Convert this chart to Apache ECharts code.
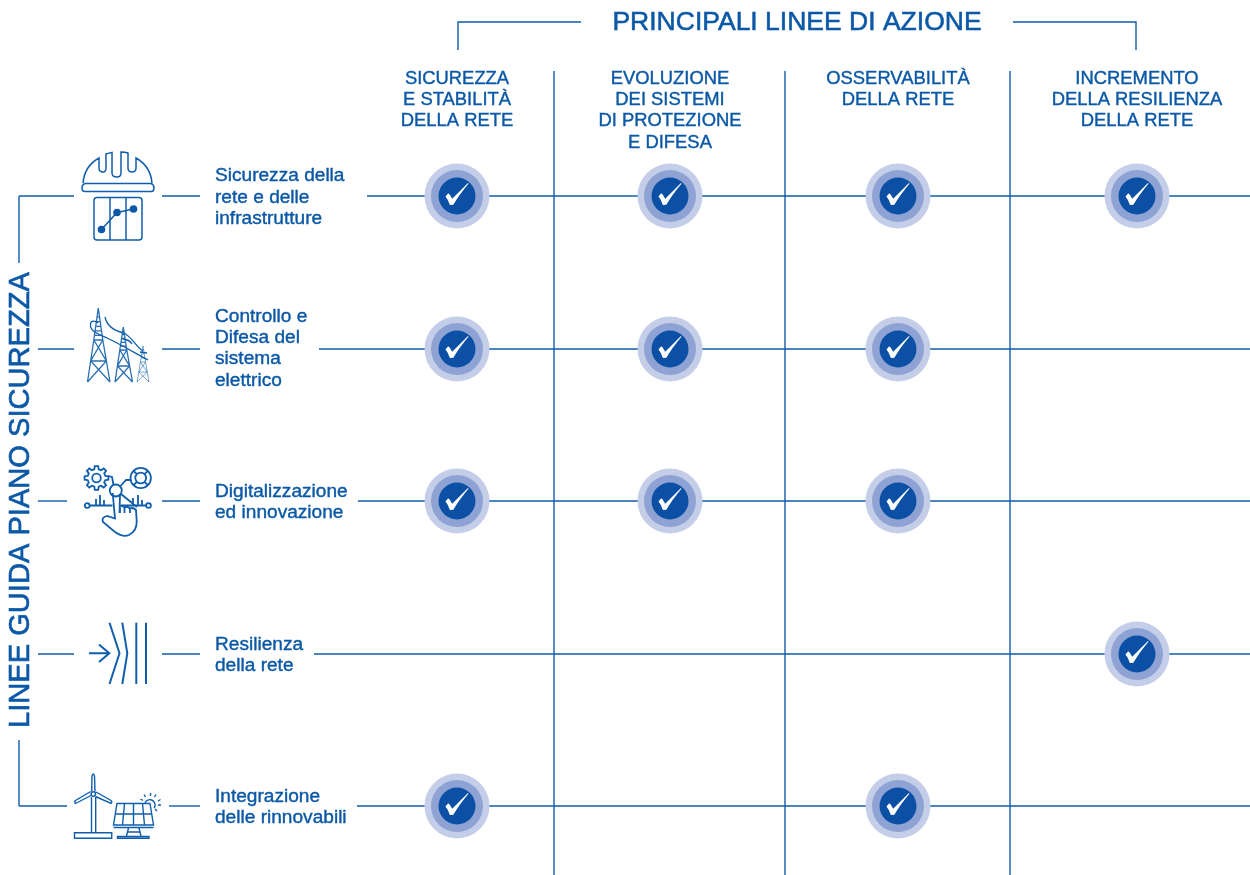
<!DOCTYPE html>
<html>
<head>
<meta charset="utf-8">
<style>html,body{margin:0;padding:0;background:#fff}#c{width:1250px;height:875px}</style>
<script src="https://cdn.jsdelivr.net/npm/echarts@6/dist/echarts.min.js"></script>
</head>
<body>
<div id="c"></div>
<script>
// ---- content ----
const chartTitle = 'PRINCIPALI LINEE DI AZIONE';
const sideTitle = 'LINEE GUIDA PIANO SICUREZZA';
const actionLines = [
  'SICUREZZA\nE STABILITÀ\nDELLA RETE',
  'EVOLUZIONE\nDEI SISTEMI\nDI PROTEZIONE\nE DIFESA',
  'OSSERVABILITÀ\nDELLA RETE',
  'INCREMENTO\nDELLA RESILIENZA\nDELLA RETE'
];
const guideLines = [
  'Sicurezza della\nrete e delle\ninfrastrutture',
  'Controllo e\nDifesa del\nsistema\nelettrico',
  'Digitalizzazione\ned innovazione',
  'Resilienza\ndella rete',
  'Integrazione\ndelle rinnovabili'
];
// one list per action line; 1 = the guide line (row) is ticked
const sicurezzaStabilita = [1, 1, 1, 0, 1];
const evoluzioneSistemi  = [1, 1, 1, 0, 0];
const osservabilita      = [1, 1, 1, 0, 1];
const resilienza         = [1, 0, 0, 1, 0];
const coverage = [sicurezzaStabilita, evoluzioneSistemi, osservabilita, resilienza];

// ---- layout ----
const colX = [457, 670, 898, 1137];
const rowY = [196, 349, 501, 654, 806];
const dividers = [554, 785, 1010];
const rowSegments = [
  [[19, 74], [162, 200], [367, 1250]],
  [[38, 74], [162, 200], [319, 1250]],
  [[38, 67], [162, 200], [358, 1250]],
  [[38, 74], [162, 200], [314, 1250]],
  [[19, 67], [169, 200], [357, 1250]]
];
const BLUE = '#0a58a6', LINE = '#0f5ca9', ICON = '#0f5eac';

const ticks = [];
coverage.forEach((col, c) => col.forEach((v, r) => { if (v) ticks.push([colX[c], rowY[r]]); }));

const segs = [];
rowSegments.forEach((list, r) => list.forEach(s => segs.push([[s[0], rowY[r]], [s[1], rowY[r]]])));
dividers.forEach(x => segs.push([[x, 71], [x, 875]]));
const polylines = [
  [[19, 196], [19, 263]],
  [[19, 740], [19, 806]],
  [[458, 50], [458, 22], [581, 22]],
  [[1013, 22], [1136, 22], [1136, 50]]
];

const CHECK = 'path://M445.7 196.7 L447.9 194 Q448.8 193.4 449.6 194.4 L452.3 199 L467.8 183.3 L468.3 184 Q459 195 453.4 205 L450 205.2 Q448.5 200 445.7 196.7 Z';

// ---- icons ----
function gearPath(cx, cy, ro, ri, n) {
  let d = '';
  for (let i = 0; i < n; i++) {
    const a = i * 2 * Math.PI / n, w = Math.PI / n;
    const pts = [[ri, a - w * 0.62], [ro, a - w * 0.36], [ro, a + w * 0.36], [ri, a + w * 0.62]];
    pts.forEach((p, k) => {
      const x = cx + p[0] * Math.cos(p[1]), y = cy + p[0] * Math.sin(p[1]);
      d += (i === 0 && k === 0 ? 'M' : 'L') + x.toFixed(1) + ' ' + y.toFixed(1) + ' ';
    });
  }
  return d + 'Z';
}
function circ(cx, cy, r) {
  return `M${cx - r} ${cy} A${r} ${r} 0 1 1 ${cx + r} ${cy} A${r} ${r} 0 1 1 ${cx - r} ${cy} Z`;
}
// mast: narrow head down to a waist, then flared legs with X bracing
function tower(ax, ay, wy, ww, bl, br, by, rungs) {
  const wl = ax - ww, wr = ax + ww;
  let d = `M${ax} ${ay} L${wl} ${wy} L${bl} ${by} M${ax} ${ay} L${wr} ${wy} L${br} ${by} `;
  for (let i = 1; i <= rungs; i++) {
    const y = ay + (wy - ay) * i / rungs, hw = ww * i / rungs;
    d += `M${ax - hw} ${y} L${ax + hw} ${y} `;
  }
  const midY = (wy + by) / 2, ml = (wl + bl) / 2, mr = (wr + br) / 2;
  d += `M${wl} ${wy} L${mr} ${midY} L${bl} ${by} M${wr} ${wy} L${ml} ${midY} L${br} ${by} M${ml} ${midY} L${mr} ${midY}`;
  return d;
}

const iconGroups = [
  [1.5, 1, [
    // helmet
    'M83 183 C84 172 90 163 99 158 L99 168 Q99 172 103 172 Q106 172 106 168 L106 154 Q109 153 112 152.5 L112 173 Q112 177 117 177 Q121 177 121 173 L121 152 Q125 152 128 153 L128 168 Q128 172 132 172 Q136 172 136 168 L136 158 C145 163 151 172 152 183 ' +
    'M85 183.5 L151 183.5 Q154 184.5 154 188 Q154 191.5 151 191.5 L85 191.5 Q82 191.5 82 188 Q82 184.5 85 183.5 Z',
    // chart panel
    'M97 197.5 L139 197.5 Q142 197.5 142 200.5 L142 237 Q142 240 139 240 L97 240 Q94 240 94 237 L94 200.5 Q94 197.5 97 197.5 Z M110 197.5 L110 240 M126 197.5 L126 240 M101.5 229.5 L117 212.5 L133.5 209'
  ]],
  [1.3, 0.9, [
    tower(98.3, 308, 340, 4.5, 87.5, 110, 382, 7),
    tower(123.3, 327, 350, 3.5, 115, 132.5, 382, 6)
  ]],
  [1, 0.55, [tower(143, 346, 362, 2.5, 137, 149, 382, 4)]],
  [1.3, 1, [
    'M105 317 C107 326 115 331 124 333 C131 336 136 347 143 351 M91 322 C88 330 96 333 107 338 C120 344 135 353 148 360 M91 322 Q94 320 98 323 M123 339 Q130 340 132 344 M140 352 L147 353'
  ]],
  [1.8, 1, [
    gearPath(96.5, 478, 12, 9, 8), circ(96.5, 478, 4.3),
    circ(140.7, 478, 10.2), circ(140.7, 478, 5.4),
    'M133.5 470.8 L136.9 474.2 M147.9 470.8 L144.5 474.2 M133.5 485.2 L136.9 481.8 M147.9 485.2 L144.5 481.8',
    circ(115.8, 490.5, 6),
    'M108 476 L112 477 L113.5 485 M130.5 480 L126 480 L120.5 486',
    circ(87.2, 505.5, 2.4), circ(148.5, 505.5, 2.4),
    'M89.7 505.5 L112.5 505.5 M96 505.5 L96 499 M100 505.5 L100 495 M104 505.5 L104 500 M121 505.5 L146 505.5 M133 505.5 L133 498 M138 505.5 L138 495 M142 505.5 L142 500 M121 494 L137 507',
    'M112.7 493 L115 518.5 L107 516 Q101 517.5 103 522 L115 532 Q123 537.5 129 535 Q137 531 136.7 521 L136 510 Q133 507 130 508.5 L130 513 M130 508.5 Q127 505.5 124.5 507.5 L124.5 513 M124.5 507.5 Q122 505 120 506 L120 513 M120 494 L119.5 513'
  ]],
  [2, 1, ['M89 653.3 L109 653.3 M99 644.5 L109.3 653.3 L99 662', 'M109.5 622.7 L119.5 653.3 L109.5 684', 'M122.3 622.7 L127.3 653.3 L122.3 684', 'M136.3 622.7 L136.3 684', 'M146 622.7 L146 684']],
  [1.4, 1, [
    'M91.5 797 L91.5 833 M95.7 797 L95.7 833 M74.5 832.8 L111.7 832.8 L111.7 838.3 L74.5 838.3 Z ' +
    'M91.7 791.5 L92 776 Q93 772 94.5 776 L95 791.5 M91 795.5 L75.5 803.5 Q74 802 75.5 800.5 L90.7 791.5 M96 792 L111 800.5 Q112.5 802 111 803.5 L95.5 796.5',
    circ(93.3, 794, 2.2),
    'M117 803.5 L150 803.5 L153.5 825 L113.5 825 Z M113.5 827.5 L153.5 827.5 M115 814 L152 814 M124.5 803.5 L122.5 825 M133.5 803.5 L133.5 825 M142.5 803.5 L144.5 825 ' +
    'M128.5 828 L126.5 836 M139 828 L141 836 M127 832 L140 832 M117.5 836.5 L149 836.5 L149 838.3 L117.5 838.3 Z',
    'M145 803 A5.2 5.2 0 1 1 154 808 M150.5 793 L150.5 796 M144 794.5 L145.5 797 M156 794.5 L154.5 797 M140.5 799 L143 800.5 M160.5 799.5 L158 801 M161 805 L158 805 M157 811 L155 809'
  ]]
];

let shapeId = 0;
function pathEl(d, w, op) {
  const name = 'iconShape' + (shapeId++);
  echarts.graphic.registerShape(name, echarts.graphic.extendPath(d, {}));
  return { type: name, silent: true, shape: {}, style: { fill: 'none', stroke: ICON, lineWidth: w, opacity: op } };
}
const dots = [[101.5, 229.5, 3.8], [117, 212.5, 3.8], [133.5, 209, 3.8]].map(p => ({
  type: 'circle', shape: { cx: p[0], cy: p[1], r: p[2] }, style: { fill: '#0a58a6' }, silent: true
}));

const FONT = '"Liberation Sans", Arial, sans-serif';
const txt = (text, x, y, size, align, lh, weightStroke, extra) => Object.assign({
  type: 'text', x, y, silent: true,
  style: {
    text, fill: BLUE, stroke: BLUE, lineWidth: weightStroke,
    font: `${size}px ${FONT}`,
    textAlign: align, textVerticalAlign: 'middle', lineHeight: lh
  }
}, extra || {});

const graphics = [];
iconGroups.forEach(g => g[2].forEach(d => graphics.push(pathEl(d, g[0], g[1]))));
graphics.push(...dots);
graphics.push(txt(chartTitle, 797, 23, 26.5, 'center', 30, 0.55));
graphics.push(txt(sideTitle, 20.5, 500, 29.1, 'center', 30, 0.6, { rotation: Math.PI / 2 }));
actionLines.forEach((t, i) => {
  const n = t.split('\n').length;
  graphics.push(txt(t, colX[i], 78.5 + (n - 1) * 21.4 / 2, 18.4, 'center', 21.4, 0.4));
});
const rowTextY = [197.5, 348.5, 502.5, 655, 807];
guideLines.forEach((t, i) => graphics.push(txt(t, 215, rowTextY[i], 19.1, 'left', 21.4, 0.4)));

const scatter = (size, color, symbol, z, offset) => ({
  type: 'scatter', data: ticks, symbol: symbol || 'circle', symbolSize: size, symbolOffset: offset || [0, 0],
  itemStyle: { color, opacity: 1 }, z, silent: true, animation: false
});

const chart = echarts.init(document.getElementById('c'), null, { renderer: 'canvas' });
chart.setOption({
  animation: false,
  backgroundColor: '#ffffff',
  grid: { left: 0, right: 0, top: 0, bottom: 0 },
  xAxis: { type: 'value', min: 0, max: 1250, show: false },
  yAxis: { type: 'value', min: 0, max: 875, inverse: true, show: false },
  graphic: graphics,
  series: [
    { type: 'lines', coordinateSystem: 'cartesian2d', polyline: true, data: segs.concat(polylines).map(c => ({ coords: c })),
      lineStyle: { color: LINE, width: 1.4, opacity: 1 }, z: 1, silent: true, animation: false },
    scatter(65, '#c4cee9', 'circle', 2),
    scatter(52, '#8ea3d4', 'circle', 3),
    scatter(37, '#0b50a4', 'circle', 4),
    scatter([23, 22], '#ffffff', CHECK, 5, [0, -2])
  ]
});
</script>
</body>
</html>
